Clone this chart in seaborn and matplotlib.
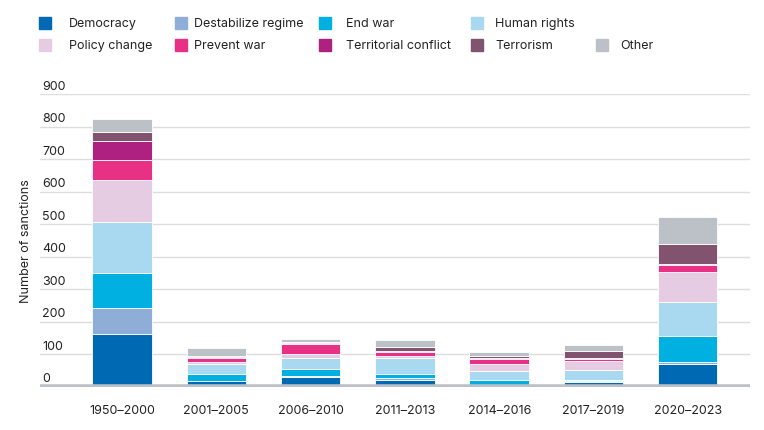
import matplotlib
matplotlib.use("Agg")
import matplotlib.pyplot as plt
import matplotlib.transforms as mtrans
from matplotlib.patches import Rectangle
import seaborn as sns
import numpy as np

periods = ["1950–2000", "2001–2005", "2006–2010", "2011–2013", "2014–2016", "2017–2019", "2020–2023"]
series = ["Democracy", "Destabilize regime", "End war", "Human rights", "Policy change",
          "Prevent war", "Territorial conflict", "Terrorism", "Other"]
colors = ["#0069b4", "#8eaed8", "#00b0e0", "#a9d9f0", "#e6cce2", "#e83185", "#ae2181", "#82536f", "#bcc1c8"]

democracy   = [163, 18, 32, 22, 4, 15, 72]
destabilize = [80, 1, 1, 6, 1, 2, 6]
end_war     = [107, 22, 22, 12, 18, 6, 80]
human_rights= [157, 29, 35, 50, 25, 28, 104]
policy      = [128, 8, 11, 6, 24, 28, 90]
prevent_war = [61, 12, 30, 12, 13, 6, 22]
territorial = [59, 2, 3, 2, 4, 3, 3]
terrorism   = [29, 2, 4, 12, 6, 24, 61]
other       = [40, 27, 8, 23, 11, 18, 83]
values = [democracy, destabilize, end_war, human_rights, policy, prevent_war, territorial, terrorism, other]
yticks = [0, 100, 200, 300, 400, 500, 600, 700, 800, 900]

font = "Inter"
plt.rcParams["font.family"] = font
fig = plt.figure(figsize=(7.64, 4.31), dpi=100)
ax = fig.add_axes([40/764, 1-388/431, 710/764, 293/431])

cum = np.zeros(len(periods))
for name, vals, c in zip(series, values, colors):
    sns.barplot(x=periods, y=vals, bottom=cum, color=c, width=0.63, ax=ax,
                edgecolor="white", linewidth=0.6, saturation=1)
    cum += np.array(vals)

ax.set_ylim(0, 900)
ax.set_xlim(-0.87, 6.66)
ax.set_yticks(yticks)
ax.set_yticklabels([str(t) for t in yticks], ha="left", fontsize=9, color="#222222")
ax.tick_params(axis="y", length=0, pad=0)
off = mtrans.ScaledTranslation(2/100, 10/100, fig.dpi_scale_trans)
for lab in ax.get_yticklabels():
    lab.set_transform(lab.get_transform() + off)
ax.tick_params(axis="x", length=0, pad=12, labelsize=9, labelcolor="#222222")
ax.grid(axis="y", color="#dddddd", linewidth=1)
ax.set_axisbelow(True)
for s in ax.spines.values():
    s.set_visible(False)
ax.axhline(0, color="#bcc1c8", linewidth=4, zorder=5)
ax.set_xlabel("")
ax.set_ylabel("Number of sanctions", fontsize=9, color="#222222", labelpad=6)

rows = [[0, 1, 2, 3], [4, 5, 6, 7, 8]]
row_y = [24, 46]
sq_x = [39, 175, 319, 471, 596]
tx_x = [69, 194, 346, 495, 620]
for r, idxs in enumerate(rows):
    for k, i in enumerate(idxs):
        y0 = row_y[r]
        fig.patches.append(Rectangle((sq_x[k]/764, 1-(y0+6)/431), 12/764, 12/431,
                                     transform=fig.transFigure, color=colors[i]))
        fig.text(tx_x[k]/764, 1-y0/431, series[i], fontsize=9, va="center", color="#222222")

fig.savefig("out.png", dpi=100)
